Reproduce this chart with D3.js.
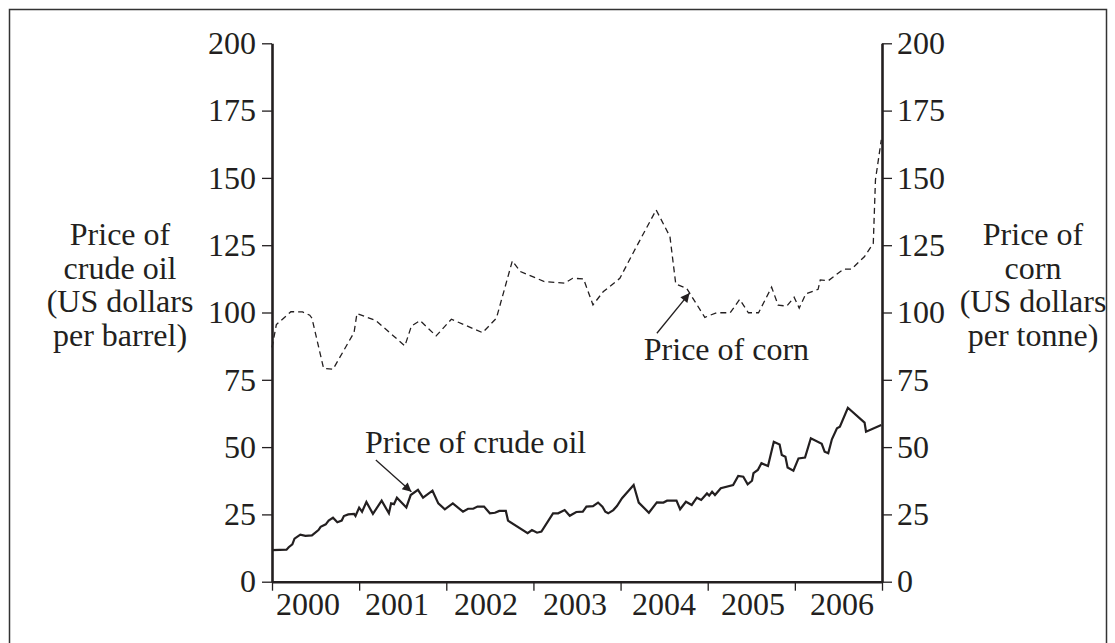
<!DOCTYPE html>
<html>
<head>
<meta charset="utf-8">
<script src="https://cdn.jsdelivr.net/npm/d3@7"></script>
<style>
  body { margin: 0; background: #fff; }
  svg text { font-family: "Liberation Serif", "Times New Roman", serif; fill: #231f20; }
</style>
</head>
<body>
<div id="chart"></div>
<script>
// months since Jan 2000
const oilMonths = [0.0, 2.0, 2.3, 2.8, 3.1, 3.9, 4.6, 5.5, 6.4, 6.7, 7.4, 7.8, 8.4, 9.0, 9.6, 9.9, 10.5, 11.3, 11.5, 12.0,
  12.4, 13.0, 13.9, 15.1, 16.1, 16.4, 16.8, 17.2, 18.5, 19.1, 20.1, 20.8, 22.1, 22.9, 23.8, 24.9, 26.3, 27.0, 27.7, 28.3,
  29.2, 30.0, 30.7, 31.3, 32.2, 32.5, 35.2, 35.8, 36.5, 37.1, 38.7, 39.4, 40.3, 41.0, 41.9, 42.8, 43.3, 44.2, 44.9, 45.5,
  45.9, 46.3, 47.0, 47.5, 48.2, 49.8, 50.5, 51.9, 53.0, 53.9, 54.4, 55.7, 56.2, 57.0, 57.8, 58.5, 59.1, 59.9, 60.2, 60.6,
  61.0, 61.8, 63.5, 64.2, 64.9, 65.5, 66.1, 66.3, 66.9, 67.4, 68.3, 69.1, 69.9, 70.2, 70.7, 71.0, 71.8, 72.5, 73.4, 74.2,
  75.7, 76.1, 76.6, 77.1, 77.8, 78.2, 79.3, 81.6, 81.8, 83.9]
const oilPrices = [11.7, 11.9, 12.8, 13.9, 16.0, 17.5, 17.0, 17.2, 19.2, 20.4, 21.3, 22.7, 23.8, 22.1, 22.7, 24.4, 25.0, 25.2, 24.4, 27.5,
  26.0, 29.6, 25.2, 30.1, 25.4, 29.1, 28.8, 31.2, 27.6, 32.2, 34.1, 31.2, 33.8, 29.1, 26.9, 29.1, 26.0, 27.1, 27.1, 27.9,
  27.9, 25.4, 25.6, 26.3, 26.3, 22.7, 18.0, 19.2, 18.2, 18.6, 25.4, 25.4, 26.6, 24.5, 25.9, 26.0, 27.9, 28.1, 29.4, 27.9,
  26.0, 25.4, 26.6, 28.1, 31.0, 35.9, 29.4, 25.6, 29.5, 29.4, 30.1, 30.1, 26.9, 29.7, 28.5, 31.2, 30.4, 32.8, 32.0, 33.4,
  32.2, 34.7, 35.9, 39.3, 39.0, 36.2, 37.5, 40.3, 41.5, 44.0, 43.0, 52.0, 51.0, 47.1, 46.4, 42.4, 41.2, 45.8, 46.1, 53.3,
  51.2, 48.3, 47.7, 52.9, 57.0, 57.6, 64.6, 59.1, 55.7, 58.2]

const cornMonths = [0.0, 0.6, 2.6, 4.2, 5.2, 5.5, 7.1, 8.4, 11.3, 11.7, 14.3, 18.3, 19.2, 20.4, 22.6, 24.7, 29.0, 30.9, 33.1, 34.2,
  37.5, 40.3, 41.4, 42.9, 44.2, 45.6, 47.9, 49.8, 52.9, 54.8, 55.6, 57.1, 59.6, 61.2, 63.1, 64.4, 65.6, 67.0, 68.8, 69.7,
  70.9, 71.9, 72.6, 73.5, 75.2, 75.5, 76.6, 78.7, 79.8, 81.6, 82.8, 83.1, 83.9]
const cornPrices = [87.0, 95.5, 100.3, 100.2, 99.0, 97.9, 79.3, 78.9, 92.6, 99.6, 97.0, 87.6, 95.0, 97.0, 91.3, 97.5, 92.5, 97.9, 119.2, 115.2,
  111.5, 110.9, 112.7, 112.5, 102.8, 107.7, 112.7, 122.5, 138.1, 128.2, 110.6, 109.0, 98.2, 99.9, 99.9, 104.9, 99.9, 99.9, 109.4, 102.7,
  102.4, 105.7, 101.6, 106.9, 108.6, 112.1, 111.8, 116.1, 116.1, 120.8, 125.7, 149.3, 164.1]

const years = [2000, 2001, 2002, 2003, 2004, 2005, 2006]
const yTicks = [0, 25, 50, 75, 100, 125, 150, 175, 200]
const leftLabel = ['Price of', 'crude oil', '(US dollars', 'per barrel)']
const rightLabel = ['Price of', 'corn', '(US dollars', 'per tonne)']

const W = 1115, H = 643
const ink = '#231f20'
const fontSize = 32

const svg = d3.select('#chart').append('svg')
  .attr('width', W).attr('height', H)

svg.append('rect')
  .attr('x', 9.5).attr('y', 9.5)
  .attr('width', 1097).attr('height', 700)
  .attr('fill', 'none').attr('stroke', '#333').attr('stroke-width', 1.5)

const x = d3.scaleLinear().domain([0, 84]).range([272, 882])
const y = d3.scaleLinear().domain([0, 200]).range([581.7, 43.3])
// year labels sit a touch off the tick midpoints in the original
const yearX = d3.scaleLinear().domain([2000, 2006]).range([308, 842])

svg.append('defs').append('marker')
  .attr('id', 'arrow')
  .attr('viewBox', '0 0 10 10')
  .attr('refX', 10).attr('refY', 5)
  .attr('markerWidth', 12).attr('markerHeight', 9)
  .attr('markerUnits', 'userSpaceOnUse')
  .attr('orient', 'auto')
  .append('path').attr('d', 'M0,0L10,5L0,10z').attr('fill', ink)

function styleAxis(g) {
  g.selectAll('.domain').attr('stroke', ink).attr('stroke-width', 2.6)
  g.selectAll('.tick line').attr('stroke', ink).attr('stroke-width', 1.3)
  g.selectAll('.tick text')
    .attr('font-size', fontSize)
    .attr('font-family', '"Liberation Serif", serif')
    .attr('fill', ink)
}

svg.append('g')
  .attr('transform', `translate(${x(0)},0)`)
  .call(d3.axisLeft(y).tickValues(yTicks).tickSize(10).tickSizeOuter(0).tickPadding(6))
  .call(styleAxis)

svg.append('g')
  .attr('transform', `translate(${x(84)},0)`)
  .call(d3.axisRight(y).tickValues(yTicks).tickSize(10).tickSizeOuter(0).tickPadding(5))
  .call(styleAxis)

svg.append('g')
  .attr('transform', `translate(0,${y(0)})`)
  .call(d3.axisBottom(x).tickValues(d3.range(0, 85, 12)).tickSize(9).tickSizeOuter(0).tickFormat(''))
  .call(styleAxis)

svg.append('g').selectAll('text')
  .data(years)
  .enter().append('text')
    .attr('x', d => yearX(d))
    .attr('y', 615)
    .attr('text-anchor', 'middle')
    .attr('font-size', fontSize)
    .text(d => d)

const line = d3.line()
  .x(d => x(d[0]))
  .y(d => y(d[1]))

svg.append('path')
  .datum(d3.zip(cornMonths, cornPrices))
  .attr('d', line)
  .attr('fill', 'none')
  .attr('stroke', ink)
  .attr('stroke-width', 1.3)
  .attr('stroke-dasharray', '6,4')

svg.append('path')
  .datum(d3.zip(oilMonths, oilPrices))
  .attr('d', line)
  .attr('fill', 'none')
  .attr('stroke', ink)
  .attr('stroke-width', 2.2)
  .attr('stroke-linejoin', 'miter')

// axis titles
function axisTitle(lines, cx) {
  svg.append('g').selectAll('text')
    .data(lines)
    .enter().append('text')
      .attr('x', cx)
      .attr('y', (d, i) => 245 + i * 33.5)
      .attr('text-anchor', 'middle')
      .attr('font-size', fontSize)
      .text(d => d)
}
axisTitle(leftLabel, 120)
axisTitle(rightLabel, 1033)

// annotations
svg.append('text')
  .attr('x', x(12.8)).attr('y', y(47.7))
  .attr('font-size', fontSize)
  .text('Price of crude oil')
svg.append('line')
  .attr('x1', x(14.3)).attr('y1', y(45.2))
  .attr('x2', x(19.2)).attr('y2', y(33.4))
  .attr('stroke', ink).attr('stroke-width', 1.3)
  .attr('marker-end', 'url(#arrow)')

svg.append('text')
  .attr('x', x(51.2)).attr('y', y(82.4))
  .attr('font-size', fontSize)
  .text('Price of corn')
svg.append('line')
  .attr('x1', x(53.0)).attr('y1', y(92.3))
  .attr('x2', x(57.5)).attr('y2', y(107.2))
  .attr('stroke', ink).attr('stroke-width', 1.3)
  .attr('marker-end', 'url(#arrow)')
</script>
</body>
</html>
